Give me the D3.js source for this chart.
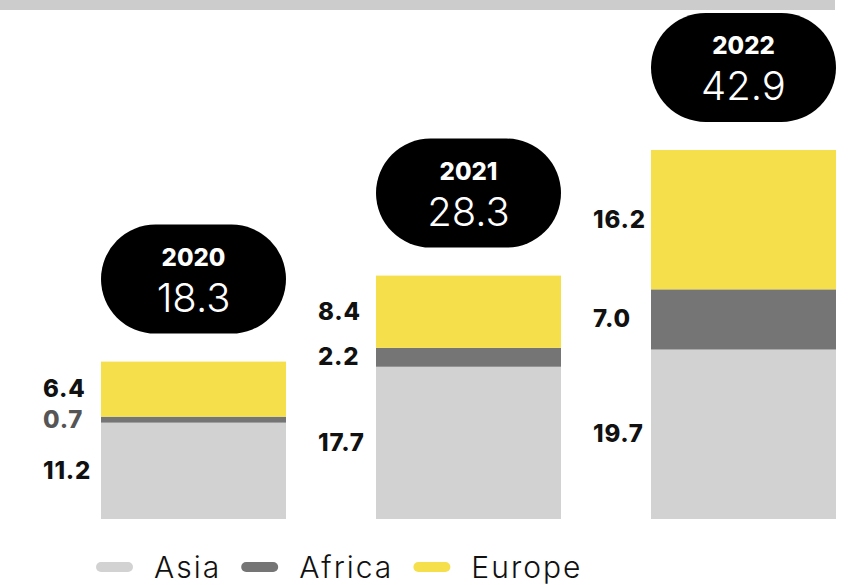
<!DOCTYPE html>
<html>
<head>
<meta charset="utf-8">
<script src="https://cdn.jsdelivr.net/npm/d3@7"></script>
<style>
  html, body { margin: 0; padding: 0; background: #fff; }
  svg { display: block; font-family: "Inter", "Open Sans", sans-serif; }
</style>
</head>
<body>
<svg id="chart" width="866" height="585"></svg>
<script>
// ---- data ----
const years = ["2020", "2021", "2022"];
const asia = [11.2, 17.7, 19.7];
const africa = [0.7, 2.2, 7.0];
const europe = [6.4, 8.4, 16.2];
const totals = [18.3, 28.3, 42.9];
const seriesNames = ["Asia", "Africa", "Europe"];

// ---- setup ----
const svg = d3.select("#chart");
const colors = { Asia: "#d2d2d2", Africa: "#757575", Europe: "#f5e04b" };

const x = d3.scaleBand().domain(years).range([101, 836]).paddingInner(90 / 275).paddingOuter(0);
const y = d3.scaleLinear().domain([0, 42.9]).range([519, 150]);

// top grey strip
svg.append("rect").attr("x", 0).attr("y", 0).attr("width", 835).attr("height", 10).attr("fill", "#cccccc");

const rows = years.map((yr, i) => ({ year: yr, Asia: asia[i], Africa: africa[i], Europe: europe[i], total: totals[i] }));
const stack = d3.stack().keys(seriesNames)(rows);

// bars
svg.append("g").selectAll("g").data(stack).join("g")
  .attr("fill", d => colors[d.key])
  .selectAll("rect").data(d => d.map(p => ({ p, key: d.key }))).join("rect")
  .attr("x", d => x(d.p.data.year))
  .attr("width", x.bandwidth())
  .attr("y", d => y(d.p[1]))
  .attr("height", d => y(d.p[0]) - y(d.p[1]));

// segment labels
const labelG = svg.append("g");
stack.forEach(s => {
  s.forEach(p => {
    const yr = p.data.year;
    const val = p.data[s.key];
    const mid = (y(p[0]) + y(p[1])) / 2;
    labelG.append("text")
      .attr("x", x(yr) - 58)
      .attr("y", mid + 8)
      .attr("font-size", 24)
      .attr("font-weight", 800)
      .attr("letter-spacing", 0.8)
      .attr("fill", (yr === "2020" && s.key === "Africa") ? "#555" : "#111")
      .text(val.toFixed(1));
  });
});

// pills with totals
const pillH = 109;
const pills = svg.append("g").selectAll("g").data(rows).join("g")
  .attr("transform", d => `translate(${x(d.year)},${y(d.total) - 28 - pillH})`);
pills.append("rect")
  .attr("width", x.bandwidth()).attr("height", pillH)
  .attr("rx", pillH / 2).attr("ry", pillH / 2)
  .attr("fill", "#000");
pills.append("text")
  .attr("x", x.bandwidth() / 2).attr("y", 41)
  .attr("text-anchor", "middle")
  .attr("font-size", 24).attr("font-weight", 800)
  .attr("fill", "#fff")
  .text(d => d.year);
pills.append("text")
  .attr("x", x.bandwidth() / 2).attr("y", 87)
  .attr("text-anchor", "middle")
  .attr("font-size", 40).attr("font-weight", 300)
  .attr("fill", "#fff")
  .text(d => d.total.toFixed(1));

// legend
const legend = svg.append("g");
let lx = 96;
seriesNames.forEach(name => {
  legend.append("line")
    .attr("x1", lx + 5).attr("x2", lx + 32)
    .attr("y1", 567).attr("y2", 567)
    .attr("stroke", colors[name]).attr("stroke-width", 10).attr("stroke-linecap", "round");
  const t = legend.append("text")
    .attr("x", lx + 58).attr("y", 578)
    .attr("font-size", 30).attr("font-weight", 300)
    .attr("letter-spacing", 2)
    .attr("fill", "#111")
    .text(name);
  lx = lx + 58 + t.node().getComputedTextLength() + 20;
});
</script>
</body>
</html>
